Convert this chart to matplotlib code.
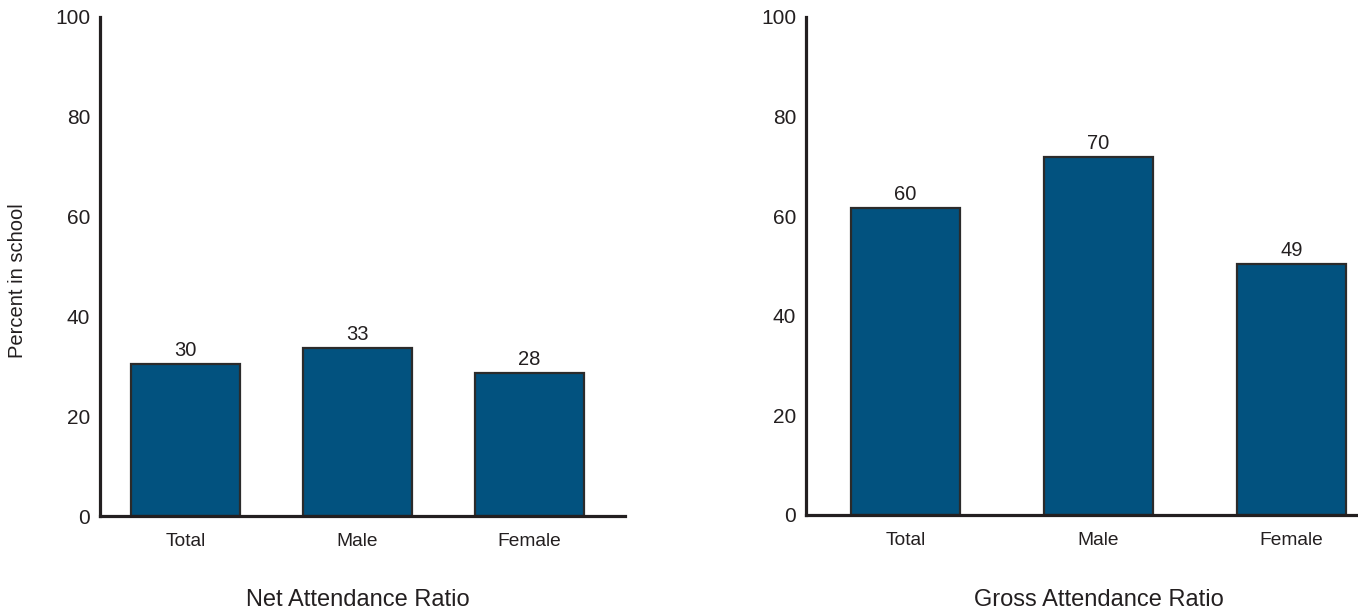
import matplotlib
matplotlib.use("Agg")
import matplotlib.pyplot as plt
import matplotlib.transforms as mtransforms

plt.rcParams['font.family'] = ['Liberation Sans', 'DejaVu Sans']

categories = ["Total", "Male", "Female"]
net_values = [30.5, 33.7, 28.7]
net_labels = ["30", "33", "28"]
gross_values = [61.6, 71.9, 50.4]
gross_labels = ["60", "70", "49"]
yticks = [0, 20, 40, 60, 80, 100]
titles = ["Net Attendance Ratio", "Gross Attendance Ratio"]

W, H = 1358, 613
fig = plt.figure(figsize=(W / 100, H / 100), dpi=100)

bar_color = "#02527f"
edge_color = "#2b2b2b"
text_color = "#231f20"

def px_axes(l, r, top, bottom):
    return fig.add_axes([l / W, 1 - bottom / H, (r - l) / W, (bottom - top) / H])

specs = [
    dict(box=(100, 625, 17, 516), xlim=(-0.497, 2.555), width=0.634,
         values=net_values, labels=net_labels, title=titles[0]),
    dict(box=(806, 1358, 17, 515), xlim=(-0.516, 2.345), width=0.565,
         values=gross_values, labels=gross_labels, title=titles[1]),
]

for s in specs:
    ax = px_axes(*s["box"])
    x = list(range(len(categories)))
    ax.bar(x, s["values"], width=s["width"], color=bar_color,
           edgecolor=edge_color, linewidth=1.6, zorder=2)
    for xi, v, lab in zip(x, s["values"], s["labels"]):
        ax.annotate(lab, (xi, v), xytext=(0, 3), textcoords="offset points",
                    ha="center", va="bottom", fontsize=14.5, color=text_color)
    ax.set_xlim(*s["xlim"])
    ax.set_ylim(0, 100)
    ax.set_yticks(yticks)
    ax.set_xticks(x)
    ax.set_xticklabels(categories)
    ax.tick_params(axis="both", length=0, labelsize=15, colors=text_color)
    ax.tick_params(axis="x", pad=12, labelsize=13.8)
    ax.tick_params(axis="y", pad=7)
    for side in ["top", "right"]:
        ax.spines[side].set_visible(False)
    for side in ["left", "bottom"]:
        ax.spines[side].set_linewidth(2.3)
        ax.spines[side].set_color(text_color)
    trans = mtransforms.blended_transform_factory(ax.transData, fig.transFigure)
    ax.text(1, 1 - 600 / H, s["title"], transform=trans, ha="center",
            va="center", fontsize=17, color=text_color)

fig.text(18 / W, 1 - 281 / H, "Percent in school", rotation=90,
         ha="center", va="center", fontsize=14.5, color=text_color)

fig.savefig("out.png", dpi=100)
